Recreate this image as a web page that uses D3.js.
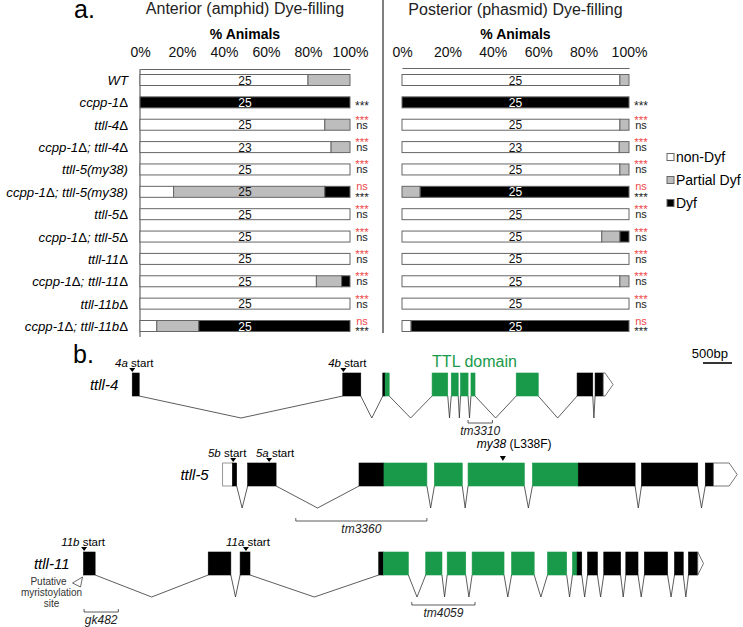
<!DOCTYPE html>
<html>
<head>
<meta charset="utf-8">
<script src="https://cdn.jsdelivr.net/npm/d3@7"></script>
<style>
  body { margin: 0; background: #fff; }
  text { font-family: "Liberation Sans", Arial, sans-serif; }
</style>
</head>
<body>
<div id="fig"></div>
<script>
// ---- panel a data ----
var strains = ["WT", "ccpp-1Δ", "ttll-4Δ", "ccpp-1Δ; ttll-4Δ", "ttll-5(my38)", "ccpp-1Δ; ttll-5(my38)",
  "ttll-5Δ", "ccpp-1Δ; ttll-5Δ", "ttll-11Δ", "ccpp-1Δ; ttll-11Δ", "ttll-11bΔ", "ccpp-1Δ; ttll-11bΔ"];
var counts = [25, 25, 25, 23, 25, 25, 25, 25, 25, 25, 25, 25];

// fraction of animals: non-Dyf / partial Dyf / Dyf
var anteriorNon     = [0.80, 0, 0.88, 0.91, 1, 0.16, 1, 1, 1, 0.84, 1, 0.08];
var anteriorPartial = [0.20, 0, 0.12, 0.09, 0, 0.72, 0, 0, 0, 0.12, 0, 0.20];
var anteriorDyf     = [0,    1, 0,    0,    0, 0.12, 0, 0, 0, 0.04, 0, 0.72];
var posteriorNon     = [0.96, 0, 0.96, 0.957, 0.96, 0,    1, 0.88, 1, 0.96, 1, 0.04];
var posteriorPartial = [0.04, 0, 0.04, 0.043, 0.04, 0.08, 0, 0.08, 0, 0.04, 0, 0];
var posteriorDyf     = [0,    1, 0,    0,     0,    0.92, 0, 0.04, 0, 0,    0, 0.96];

// significance (same in both panels): red = vs ccpp-1, black = vs WT
var sigRed   = ["", "", "***", "***", "***", "ns", "***", "***", "***", "***", "***", "ns"];
var sigBlack = ["", "***", "ns", "ns", "ns", "***", "ns", "ns", "ns", "ns", "ns", "***"];

var tickVals = [0, 0.2, 0.4, 0.6, 0.8, 1];
var legendKeys = ["non", "partial", "dyf"];
var legendNames = ["non-Dyf", "Partial Dyf", "Dyf"];

// ---- panel b data (bp) ----
// exon = list of segments [start, end, kind]; k coding, g TTL domain, u UTR, a UTR end arrow
var ttll4Exons = [
  [[2280, 2400, "k"]],
  [[5910, 6220, "k"]],
  [[6600, 6640, "k"], [6640, 6710, "g"]],
  [[7450, 7720, "g"]],
  [[7780, 7900, "g"]],
  [[7940, 8070, "g"]],
  [[8120, 8190, "g"]],
  [[8900, 9280, "g"]],
  [[9950, 10220, "k"]],
  [[10260, 10400, "k"], [10400, 10570, "a"]]
];
var ttll5Exons = [
  [[3840, 4010, "u"], [4010, 4080, "k"]],
  [[4270, 4760, "k"]],
  [[6190, 6620, "k"], [6620, 7360, "g"]],
  [[7490, 7970, "g"]],
  [[8070, 9040, "g"]],
  [[9180, 9970, "g"], [9970, 10950, "k"]],
  [[11060, 12030, "k"]],
  [[12160, 12300, "k"], [12300, 12710, "a"]]
];
var ttll11Exons = [
  [[1440, 1640, "k"]],
  [[3590, 3980, "k"]],
  [[4140, 4310, "k"]],
  [[6530, 6610, "k"], [6610, 7040, "g"]],
  [[7340, 7620, "g"]],
  [[7710, 8030, "g"]],
  [[8140, 8690, "g"]],
  [[8820, 9210, "g"]],
  [[9440, 9770, "g"]],
  [[9870, 9950, "g"], [9950, 10030, "k"]],
  [[10130, 10300, "k"]],
  [[10410, 10700, "k"]],
  [[10790, 11000, "k"]],
  [[11110, 11510, "k"]],
  [[11630, 11780, "k"]],
  [[11870, 12030, "k"], [12030, 12130, "a"]]
];
var ttll4Starts = [["4a", 2280], ["4b", 5920]];
var ttll5Starts = [["5b", 4020], ["5a", 4640]];
var ttll11Starts = [["11b", 1450], ["11a", 4240]];
var ttll4Alleles = [["tm3310", 8070, 8490]];
var ttll5Alleles = [["tm3360", 5100, 7360]];
var ttll11Alleles = [["gk482", 1450, 2040], ["tm4059", 7100, 8190]];
var my38Pos = 8670;
var scaleBarBp = [12120, 12620];

var W = 743, H = 627;
var green = "#199a4a", gray = "#bdbdbd", red = "#ef4b4b", edge = "#666";
// nudges of the "start" labels relative to their marker (layout only)
var startLabelDx = {"4a": 2, "4b": 4, "5b": -6, "5a": 6, "11b": -1, "11a": 2};

var svg = d3.select("#fig").append("svg")
  .attr("width", W).attr("height", H);

// ================= panel a =================
svg.append("text").attr("x", 74).attr("y", 18)
  .attr("font-size", 25).text("a.");

var y = d3.scalePoint().domain(d3.range(strains.length)).range([80, 326]);
var barH = 11;

// divider + left axis
svg.append("line").attr("x1", 383).attr("x2", 383).attr("y1", 0).attr("y2", 333)
  .attr("stroke", "#555").attr("stroke-width", 1.5);
svg.append("line").attr("x1", 140).attr("x2", 140).attr("y1", 69).attr("y2", 337)
  .attr("stroke", edge).attr("stroke-width", 1.2);

// row labels
var lab = svg.append("g").selectAll("text").data(strains).join("text")
  .attr("x", 128).attr("y", function(d, i) { return y(i) + 5; })
  .attr("text-anchor", "end").attr("font-size", 13.2);
lab.each(function(d) {
  var t = d3.select(this);
  d.split("Δ").forEach(function(part, j) {
    if (j > 0) t.append("tspan").attr("font-style", "normal").text("Δ");
    if (part) t.append("tspan").attr("font-style", "italic").text(part);
  });
});

function panel(xs, non, partial, dyf, title, titleY, axisY, sigX) {
  var cx = (xs.range()[0] + xs.range()[1]) / 2;
  svg.append("text").attr("x", cx).attr("y", titleY).attr("text-anchor", "middle")
    .attr("font-size", 16).attr("fill", "#222").text(title);
  svg.append("text").attr("x", cx).attr("y", 39).attr("text-anchor", "middle")
    .attr("font-size", 14).attr("font-weight", "bold").text("% Animals");

  var ax = svg.append("g").attr("transform", "translate(0," + axisY + ")")
    .call(d3.axisTop(xs).tickValues(tickVals).tickFormat(d3.format(".0%"))
      .tickSize(0).tickSizeOuter(0).tickPadding(axisY - 57));
  ax.select(".domain").attr("stroke", edge).attr("stroke-width", 1.2);
  ax.selectAll("text").attr("font-size", 14).attr("font-family", "Liberation Sans, Arial, sans-serif")
    .attr("fill", "#111");

  var rows = strains.map(function(s, i) {
    return {i: i, non: non[i], partial: partial[i], dyf: dyf[i]};
  });
  var series = d3.stack().keys(legendKeys)(rows);
  var fills = {non: "#fff", partial: gray, dyf: "#000"};

  svg.append("g").selectAll("g").data(series).join("g")
    .attr("fill", function(s) { return fills[s.key]; })
    .selectAll("rect").data(function(s) { return s.filter(function(d) { return d[1] - d[0] > 0; }); })
    .join("rect")
      .attr("x", function(d) { return xs(d[0]); })
      .attr("width", function(d) { return xs(d[1]) - xs(d[0]); })
      .attr("y", function(d) { return y(d.data.i) - barH / 2; })
      .attr("height", barH)
      .attr("stroke", edge).attr("stroke-width", 1);

  // n labels
  svg.append("g").selectAll("text").data(rows).join("text")
    .attr("x", cx).attr("y", function(d) { return y(d.i) + 4.5; })
    .attr("text-anchor", "middle").attr("font-size", 12)
    .attr("fill", function(d) { return d.non + d.partial < 0.5 ? "#fff" : "#111"; })
    .text(function(d) { return counts[d.i]; });

  // significance marks
  rows.forEach(function(d) {
    var r = sigRed[d.i], b = sigBlack[d.i], c = y(d.i);
    if (r) {
      svg.append("text").attr("x", sigX).attr("y", r === "***" ? c - 1 : c - 1.5)
        .attr("text-anchor", "middle").attr("fill", red)
        .attr("font-size", r === "***" ? 11.5 : 11).text(r);
      svg.append("text").attr("x", sigX).attr("y", b === "***" ? c + 9 : c + 4)
        .attr("text-anchor", "middle").attr("fill", "#222")
        .attr("font-size", b === "***" ? 11.5 : 11).text(b);
    } else if (b) {
      svg.append("text").attr("x", sigX).attr("y", c + 7.5)
        .attr("text-anchor", "middle").attr("fill", "#222")
        .attr("font-size", 12).text(b);
    }
  });
}

var xAnt = d3.scaleLinear().domain([0, 1]).range([140, 350]);
var xPost = d3.scaleLinear().domain([0, 1]).range([402, 629]);
panel(xAnt, anteriorNon, anteriorPartial, anteriorDyf, "Anterior (amphid) Dye-filling", 14, 69, 362);
panel(xPost, posteriorNon, posteriorPartial, posteriorDyf, "Posterior (phasmid) Dye-filling", 15, 68, 641);

// legend
var leg = svg.append("g").selectAll("g").data(legendKeys).join("g")
  .attr("transform", function(d, i) { return "translate(667," + (157 + i * 23) + ")"; });
leg.append("rect").attr("x", 0).attr("y", -3.5).attr("width", 7).attr("height", 7)
  .attr("fill", function(d) { return {non: "#fff", partial: gray, dyf: "#000"}[d]; })
  .attr("stroke", edge).attr("stroke-width", 1);
leg.append("text").attr("x", 9).attr("y", 5).attr("font-size", 14)
  .text(function(d, i) { return legendNames[i]; });

// ================= panel b =================
svg.append("text").attr("x", 73).attr("y", 363).attr("font-size", 25).text("b.");

var xg = d3.scaleLinear().domain([0, 500]).range([0, 29]);
var exonH = 23, dip = 22;

// scale bar
svg.append("line").attr("x1", xg(scaleBarBp[0])).attr("x2", xg(scaleBarBp[1]))
  .attr("y1", 363).attr("y2", 363).attr("stroke", "#000").attr("stroke-width", 1.6);
svg.append("text").attr("x", xg(scaleBarBp[1]) - 4).attr("y", 358)
  .attr("text-anchor", "end").attr("font-size", 13).text("500bp");

var segFill = {k: "#000", g: green, u: "#fff", a: "#fff"};

function drawGene(name, exons, starts, alleles, top, bracketDy) {
  var g = svg.append("g");
  var bot = top + exonH, mid = top + exonH / 2;
  // introns
  for (var i = 0; i < exons.length - 1; i++) {
    var a = xg(exons[i][exons[i].length - 1][1]), b = xg(exons[i + 1][0][0]);
    g.append("path")
      .attr("d", d3.line()([[a, bot], [(a + b) / 2, bot + dip], [b, bot]]))
      .attr("fill", "none").attr("stroke", "#333").attr("stroke-width", 0.8);
  }
  // exons
  exons.forEach(function(ex) {
    ex.forEach(function(s) {
      var x0 = xg(s[0]), x1 = xg(s[1]);
      if (s[2] === "a") {
        var p = Math.min(8, x1 - x0);
        g.append("path")
          .attr("d", d3.line()([[x0, top], [x1 - p, top], [x1, mid], [x1 - p, bot], [x0, bot]]) + "Z")
          .attr("fill", "#fff").attr("stroke", "#555").attr("stroke-width", 0.8);
      } else {
        g.append("rect").attr("x", x0).attr("y", top).attr("width", x1 - x0).attr("height", exonH)
          .attr("fill", segFill[s[2]])
          .attr("stroke", s[2] === "u" ? "#555" : segFill[s[2]]).attr("stroke-width", 0.6);
      }
    });
  });
  // gene name
  g.append("text").attr("x", xg(exons[0][0][0]) - 14).attr("y", mid + 5)
    .attr("text-anchor", "end").attr("font-size", 15).attr("font-style", "italic").text(name);
  // start sites
  starts.forEach(function(s) {
    var x = xg(s[1]);
    g.append("path").attr("d", d3.line()([[x - 3, top - 5], [x + 3, top - 5], [x, top - 1]]) + "Z")
      .attr("fill", "#000");
    var t = g.append("text").attr("x", x + (startLabelDx[s[0]] || 0)).attr("y", top - 6)
      .attr("text-anchor", "middle").attr("font-size", 11.5);
    t.append("tspan").attr("font-style", "italic").text(s[0]);
    t.append("tspan").text(" start");
  });
  // deletion alleles
  alleles.forEach(function(al, j) {
    var x0 = xg(al[1]), x1 = xg(al[2]), yy = top + bracketDy[j];
    g.append("path").attr("d", d3.line()([[x0, yy - 3], [x0, yy], [x1, yy], [x1, yy - 3]]))
      .attr("fill", "none").attr("stroke", "#333").attr("stroke-width", 0.8);
    g.append("text").attr("x", (x0 + x1) / 2).attr("y", yy + 12)
      .attr("text-anchor", "middle").attr("font-size", 12).attr("font-style", "italic")
      .attr("fill", "#222").text(al[0]);
  });
  return g;
}

var g4 = drawGene("ttll-4", ttll4Exons, ttll4Starts, ttll4Alleles, 373, [50]);
g4.append("text").attr("x", xg(ttll4Exons[3][0][0])).attr("y", 367)
  .attr("font-size", 16).attr("fill", green).text("TTL domain");

var g5 = drawGene("ttll-5", ttll5Exons, ttll5Starts, ttll5Alleles, 463, [58]);
var mx = xg(my38Pos);
g5.append("path").attr("d", d3.line()([[mx - 3, 456], [mx + 3, 456], [mx, 461]]) + "Z")
  .attr("fill", "#000");
var mt = g5.append("text").attr("x", mx - 26).attr("y", 448).attr("font-size", 12);
mt.append("tspan").attr("font-style", "italic").text("my38");
mt.append("tspan").text(" (L338F)");

var g11 = drawGene("ttll-11", ttll11Exons, ttll11Starts, ttll11Alleles, 552, [60, 53]);
var px = xg(ttll11Exons[0][0][0]) - 32;
["Putative", "myristoylation", "site"].forEach(function(s, i) {
  g11.append("text").attr("x", i === 0 ? px - 3 : px).attr("y", 585 + i * 11)
    .attr("text-anchor", "middle").attr("font-size", 10).attr("fill", "#333").text(s);
});
g11.append("path").attr("d", d3.line()([[px + 21, 583], [px + 31, 577], [px + 29, 587]]) + "Z")
  .attr("fill", "#fff").attr("stroke", "#444").attr("stroke-width", 0.8);
</script>
</body>
</html>
